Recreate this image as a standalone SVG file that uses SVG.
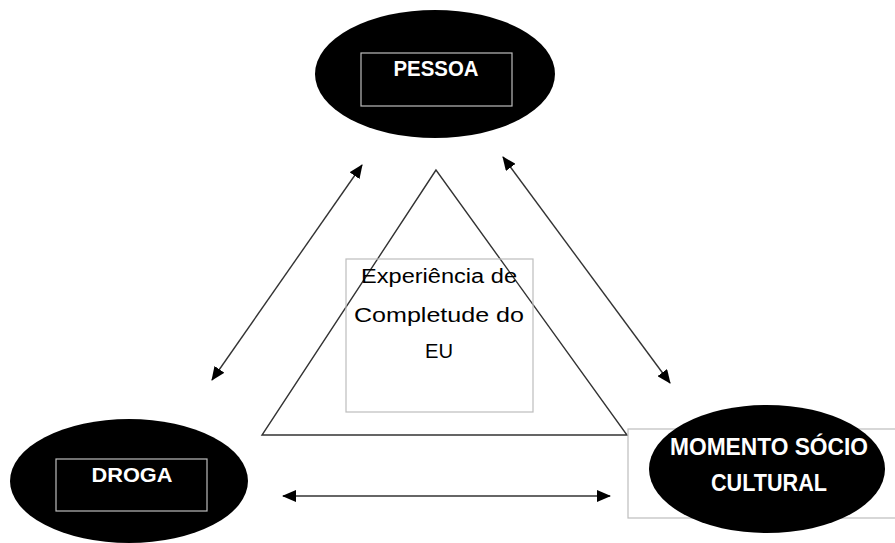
<svg xmlns="http://www.w3.org/2000/svg" width="895" height="543" viewBox="0 0 895 543">
<style>
.ell{fill:#000;}
.box{fill:none;stroke:#bdbdbd;stroke-width:1.2;}
.wbox{fill:#fff;stroke:#bdbdbd;stroke-width:1.2;}
.lbl{font-family:"Liberation Sans",Arial,sans-serif;font-weight:bold;fill:#fff;text-anchor:middle;}
.mid{font-family:"Liberation Sans",Arial,sans-serif;fill:#000;text-anchor:middle;font-size:20px;}
.con{stroke:#333;stroke-width:1.4;fill:none;marker-start:url(#ah);marker-end:url(#ah);}
.tri{fill:none;stroke:#333;stroke-width:1.4;}
</style>
<defs>
<marker id="ah" viewBox="0 0 14 12" refX="13" refY="6" markerWidth="14" markerHeight="12" markerUnits="userSpaceOnUse" orient="auto-start-reverse">
<path d="M0,0 L14,6 L0,12 Z" fill="#000"/>
</marker>
</defs>
<g id="triangle">
<polygon class="tri" points="436,170 262,435 627,435"/>
</g>
<g id="center">
<rect class="box" x="346" y="259" width="187" height="153"/>
<text class="mid" x="439" y="283" textLength="156" lengthAdjust="spacingAndGlyphs">Experiência de</text>
<text class="mid" x="439" y="322" textLength="170" lengthAdjust="spacingAndGlyphs">Completude do</text>
<text class="mid" x="439" y="358" textLength="28" lengthAdjust="spacingAndGlyphs">EU</text>
</g>
<g id="pessoa">
<ellipse class="ell" cx="435" cy="74" rx="120" ry="64"/>
<rect class="box" x="361" y="53" width="151" height="53"/>
<text class="lbl" x="436" y="76" font-size="22" textLength="85" lengthAdjust="spacingAndGlyphs">PESSOA</text>
</g>
<g id="droga">
<ellipse class="ell" cx="129" cy="481" rx="119" ry="62"/>
<rect class="box" x="56" y="459" width="151" height="52"/>
<text class="lbl" x="132" y="482" font-size="21" textLength="81" lengthAdjust="spacingAndGlyphs">DROGA</text>
</g>
<g id="momento">
<rect class="wbox" x="628" y="429" width="280" height="89"/>
<ellipse class="ell" cx="767" cy="469" rx="118" ry="64"/>
<text class="lbl" x="769" y="455" font-size="24" textLength="198" lengthAdjust="spacingAndGlyphs">MOMENTO SÓCIO</text>
<text class="lbl" x="769" y="491" font-size="24" textLength="116" lengthAdjust="spacingAndGlyphs">CULTURAL</text>
</g>
<g id="connectors">
<line class="con" x1="212" y1="380" x2="362" y2="165"/>
<line class="con" x1="503" y1="157" x2="670" y2="383"/>
<line class="con" x1="283" y1="496" x2="610" y2="496"/>
</g>
</svg>
